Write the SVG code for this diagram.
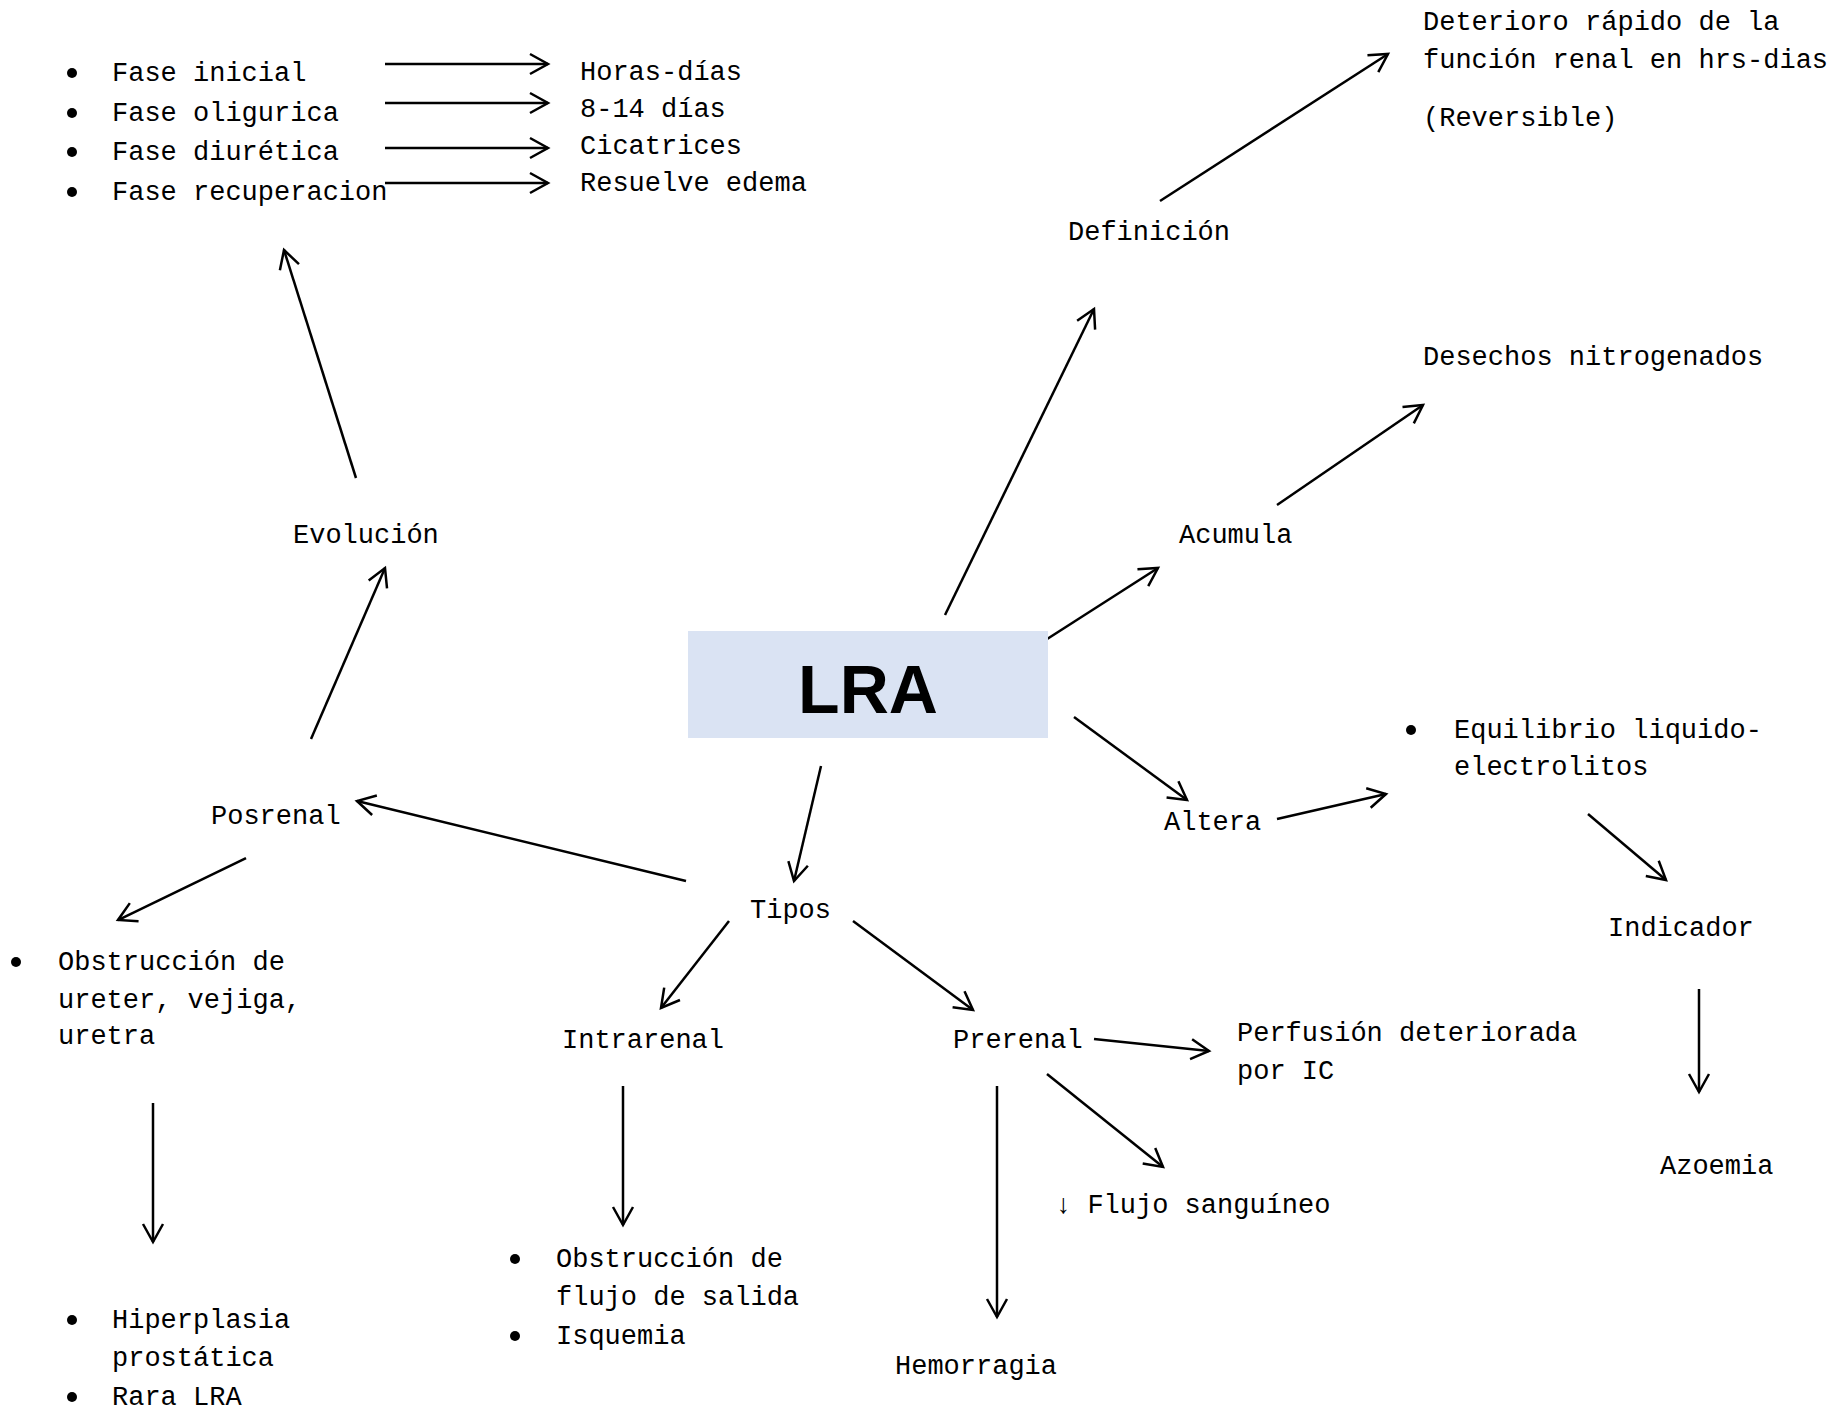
<svg xmlns="http://www.w3.org/2000/svg" width="1847" height="1408" viewBox="0 0 1847 1408">
<style>
text{font-family:"Liberation Mono","DejaVu Sans Mono",monospace;font-size:27px;fill:#000}
.c{stroke:#000;stroke-width:2.5;fill:none}
.b{fill:#000}
.lra{font-family:"Liberation Sans","DejaVu Sans",sans-serif;font-weight:bold;font-size:68px;text-anchor:middle}
</style>
<defs>
<marker id="a" markerUnits="userSpaceOnUse" markerWidth="30" markerHeight="30" viewBox="-25 -15 30 30" refX="0" refY="0" orient="auto" overflow="visible">
<path d="M-18,-10 L0,0 L-18,10" fill="none" stroke="#000" stroke-width="2.5"/>
</marker>
</defs>
<rect width="1847" height="1408" fill="#fff"/>
<g id="connectors" class="c" marker-end="url(#a)">
<line x1="385" y1="64" x2="548" y2="64"/>
<line x1="385" y1="103" x2="548" y2="103"/>
<line x1="385" y1="148" x2="548" y2="148"/>
<line x1="385" y1="183" x2="548" y2="183"/>
<line x1="1160" y1="201" x2="1388" y2="54"/>
<line x1="945" y1="615" x2="1094" y2="309"/>
<line x1="1277" y1="505" x2="1423" y2="405"/>
<line x1="1044" y1="641" x2="1158" y2="568"/>
<line x1="1074" y1="717" x2="1187" y2="800"/>
<line x1="1277" y1="819" x2="1386" y2="794"/>
<line x1="1588" y1="814" x2="1666" y2="880"/>
<line x1="1699" y1="989" x2="1699" y2="1092"/>
<line x1="821" y1="766" x2="794" y2="881"/>
<line x1="686" y1="881" x2="357" y2="801"/>
<line x1="311" y1="739" x2="385" y2="568"/>
<line x1="356" y1="478" x2="284" y2="250"/>
<line x1="246" y1="858" x2="118" y2="920"/>
<line x1="153" y1="1103" x2="153" y2="1242"/>
<line x1="729" y1="921" x2="661" y2="1008"/>
<line x1="623" y1="1086" x2="623" y2="1225"/>
<line x1="853" y1="921" x2="973" y2="1010"/>
<line x1="1094" y1="1039" x2="1209" y2="1051"/>
<line x1="1047" y1="1074" x2="1163" y2="1167"/>
<line x1="997" y1="1086" x2="997" y2="1317"/>
</g>
<g id="n-lra">
<rect x="688" y="631" width="360" height="107" fill="#DAE3F3"/>
<text class="lra" x="868" y="713">LRA</text>
</g>
<g id="n-fases">
<circle class="b" cx="72" cy="73" r="5"/><text x="112" y="81">Fase inicial</text>
<circle class="b" cx="72" cy="113" r="5"/><text x="112" y="121">Fase oligurica</text>
<circle class="b" cx="72" cy="152" r="5"/><text x="112" y="160">Fase diurética</text>
<circle class="b" cx="72" cy="192" r="5"/><text x="112" y="200">Fase recuperacion</text>
</g>
<g id="n-tiempos">
<text x="580" y="80">Horas-días</text>
<text x="580" y="117">8-14 días</text>
<text x="580" y="154">Cicatrices</text>
<text x="580" y="191">Resuelve edema</text>
</g>
<g id="n-deterioro">
<text x="1423" y="30">Deterioro rápido de la</text>
<text x="1423" y="68">función renal en hrs-dias</text>
<text x="1423" y="126">(Reversible)</text>
</g>
<g id="n-definicion"><text x="1068" y="240">Definición</text></g>
<g id="n-desechos"><text x="1423" y="365">Desechos nitrogenados</text></g>
<g id="n-acumula"><text x="1179" y="543">Acumula</text></g>
<g id="n-evolucion"><text x="293" y="543">Evolución</text></g>
<g id="n-altera"><text x="1164" y="830">Altera</text></g>
<g id="n-equilibrio">
<circle class="b" cx="1411" cy="730" r="5"/>
<text x="1454" y="738">Equilibrio liquido-</text>
<text x="1454" y="775">electrolitos</text>
</g>
<g id="n-indicador"><text x="1608" y="936">Indicador</text></g>
<g id="n-azoemia"><text x="1660" y="1174">Azoemia</text></g>
<g id="n-tipos"><text x="750" y="918">Tipos</text></g>
<g id="n-posrenal"><text x="211" y="824">Posrenal</text></g>
<g id="n-obstruccion-ureter">
<circle class="b" cx="16" cy="962" r="5"/>
<text x="58" y="970">Obstrucción de</text>
<text x="58" y="1008">ureter, vejiga,</text>
<text x="58" y="1044">uretra</text>
</g>
<g id="n-hiperplasia">
<circle class="b" cx="72" cy="1320" r="5"/>
<text x="112" y="1328">Hiperplasia</text>
<text x="112" y="1366">prostática</text>
<circle class="b" cx="72" cy="1397" r="5"/>
<text x="112" y="1405">Rara LRA</text>
</g>
<g id="n-intrarenal"><text x="562" y="1048">Intrarenal</text></g>
<g id="n-intra-causas">
<circle class="b" cx="515" cy="1259" r="5"/>
<text x="556" y="1267">Obstrucción de</text>
<text x="556" y="1305">flujo de salida</text>
<circle class="b" cx="515" cy="1336" r="5"/>
<text x="556" y="1344">Isquemia</text>
</g>
<g id="n-prerenal"><text x="953" y="1048">Prerenal</text></g>
<g id="n-perfusion">
<text x="1237" y="1041">Perfusión deteriorada</text>
<text x="1237" y="1079">por IC</text>
</g>
<g id="n-flujo"><text x="1055" y="1213">↓ Flujo sanguíneo</text></g>
<g id="n-hemorragia"><text x="895" y="1374">Hemorragia</text></g>
</svg>
